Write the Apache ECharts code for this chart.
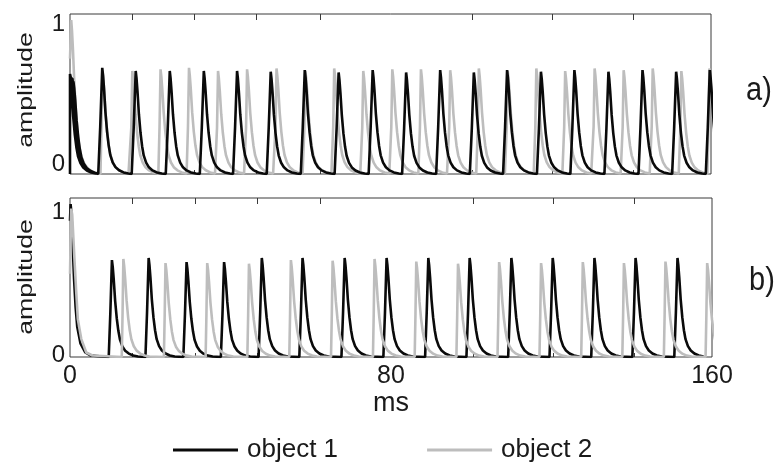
<!DOCTYPE html>
<html><head><meta charset="utf-8">
<script src="https://cdn.jsdelivr.net/npm/echarts@6/dist/echarts.min.js"></script>
<style>html,body{margin:0;padding:0;background:#fff}#c{width:776px;height:464px}</style>
</head><body><div id="c"></div>
<script>
// ---------- data ----------
const xTickLabels = [0, 80, 160];
const yTickLabels = [0, 1];
const frameTicks = [15.6, 31.1, 46.6, 62.4, 100.4, 120.4, 140.6];
const seriesNames = ['object 1', 'object 2'];
const panelLabels = ['a)', 'b)'];
const xName = 'ms';
const yName = 'amplitude';

// pulse shape (fraction of peak) after the peak, offsets in ms
const decayOffsets = [0.2, 0.45, 0.8, 1.2, 1.6, 2.0, 2.6, 3.3, 4.2, 5.3, 6.5];
const decayFracs   = [0.93, 0.8, 0.58, 0.4, 0.27, 0.18, 0.11, 0.065, 0.035, 0.015, 0.005];
const riseMidFrac = 0.45;

// panel a) object 1: initial bundle of strands at t=0
const aObj1StrandDelay = [0, 0.2, 0.4, 0.6, 0.85];
const aObj1StrandPeak  = [0.64, 0.65, 0.64, 0.62, 0.6];
const aObj1Rise = 1.0;
const aObj1Times = [8.05, 16.4, 24.9, 33.4, 41.7, 50.1, 58.6, 67.05, 75.55, 83.9, 92.4, 100.8, 109.1, 117.55, 125.9, 134.4, 142.9, 151.3, 159.7];
const aObj1Peaks = [0.69, 0.67, 0.67, 0.67, 0.67, 0.665, 0.675, 0.66, 0.675, 0.66, 0.675, 0.66, 0.675, 0.665, 0.675, 0.665, 0.675, 0.665, 0.675];
// panel a) object 2
const aObj2Rise = 0.5;
const aObj2StartT = [0, 0.3];
const aObj2StartV = [0.75, 1.0];
const aObj2Times = [0.3, 8.1, 15.55, 22.6, 29.7, 36.95, 44.2, 51.55, 58.75, 65.95, 73.2, 80.45, 87.6, 94.9, 102.05, 109.25, 116.4, 123.6, 130.95, 138.2, 145.45, 152.6, 159.6];
const aObj2Peaks = [1.0, 0.67, 0.67, 0.68, 0.69, 0.67, 0.68, 0.686, 0.67, 0.686, 0.67, 0.68, 0.68, 0.675, 0.686, 0.67, 0.686, 0.669, 0.686, 0.675, 0.686, 0.669, 0.686];

// panel b) object 1
const bObj1StartT = [0, 0.15, 0.35, 0.7, 1.0, 1.4, 1.8, 2.6, 3.8, 5.2];
const bObj1StartV = [0.9, 1.01, 0.95, 0.72, 0.52, 0.33, 0.2, 0.09, 0.03, 0.01];
const bObj1Rise = 0.8;
const bObj1Times = [10.45, 19.6, 29.05, 38.4, 47.8, 57.95, 68.45, 78.9, 89.3, 99.6, 110, 120.3, 130.7, 140.95, 151.4];
const bObj1Peaks = [0.64, 0.654, 0.627, 0.627, 0.654, 0.654, 0.654, 0.654, 0.654, 0.654, 0.654, 0.654, 0.654, 0.654, 0.654];
// panel b) object 2
const bObj2StartT = [0, 0.3, 0.55, 1.1, 1.55, 1.95, 2.8, 4.05, 5.6];
const bObj2StartV = [0.55, 0.98, 0.94, 0.65, 0.43, 0.25, 0.12, 0.03, 0.01];
const bObj2Rise = 0.4;
const bObj2Times = [13.3, 23.8, 34.2, 44.6, 55.05, 65.45, 75.9, 86.3, 96.7, 106.95, 117.4, 127.8, 138.05, 148.4, 158.8];
const bObj2Peaks = [0.647, 0.62, 0.62, 0.616, 0.64, 0.636, 0.647, 0.63, 0.616, 0.627, 0.62, 0.627, 0.62, 0.63, 0.62];

// ---------- build series points ----------
function decayPts(pts, t0, h, limit) {
  for (let k = 0; k < decayOffsets.length; k++) {
    const t = t0 + decayOffsets[k];
    if (t >= limit) break;
    pts.push([t, h * decayFracs[k]]);
  }
}
function train(pts, times, peaks, rise, skipFirstRise) {
  for (let i = 0; i < times.length; i++) {
    const t0 = times[i], h = peaks[i];
    const limit = i + 1 < times.length ? times[i + 1] - rise : Infinity;
    if (!(skipFirstRise && i === 0)) {
      pts.push([t0 - rise, 0]);
      pts.push([t0 - rise / 2, h * riseMidFrac]);
      pts.push([t0, h]);
    }
    decayPts(pts, t0, h, limit);
  }
  return pts;
}
function startPts(ts, vs) { return ts.map((t, i) => [t, vs[i]]); }

// a) object 1
const aObj1 = [];
aObj1StrandDelay.forEach((d, k) => {
  const h = aObj1StrandPeak[k];
  aObj1.push([0, 0], [0, h], [d, h]);
  decayPts(aObj1, d, h, aObj1Times[0] - aObj1Rise);
  if (k < aObj1StrandDelay.length - 1) aObj1.push([d + 7, null]);
});
train(aObj1, aObj1Times, aObj1Peaks, aObj1Rise, false);
// a) object 2
const aObj2 = train(startPts(aObj2StartT, aObj2StartV), aObj2Times, aObj2Peaks, aObj2Rise, true);
// b)
const bObj1 = train(startPts(bObj1StartT, bObj1StartV), bObj1Times, bObj1Peaks, bObj1Rise, false);
const bObj2 = train(startPts(bObj2StartT, bObj2StartV), bObj2Times, bObj2Peaks, bObj2Rise, false);

// ---------- chart ----------
const FONT = "'Liberation Sans',Arial,sans-serif";
const BLACK = '#0a0a0a', GRAY = '#bdbdbd', FRAME = '#3a3a3a', TXT = '#1a1a1a';

const chart = echarts.init(document.getElementById('c'), null, { renderer: 'canvas' });

function xAx(grid, pos, showLabels) {
  return {
    type: 'value', gridIndex: grid, position: pos, min: 0, max: 160,
    axisLine: { show: false }, splitLine: { show: false },
    axisTick: { show: true, inside: true, length: pos === 'top' ? 6 : 4, customValues: frameTicks, lineStyle: { color: FRAME, width: 1 } },
    axisLabel: showLabels ? { show: true, customValues: xTickLabels, fontSize: 25, fontFamily: FONT, color: TXT, margin: 7 } : { show: false },
    name: showLabels ? xName : '', nameLocation: 'middle', nameGap: 31,
    nameTextStyle: { fontSize: 27, fontFamily: FONT, color: TXT }
  };
}
function yAx(grid, max, padZero, padOne) {
  const st = { fontSize: 24, fontFamily: FONT, color: TXT };
  return {
    type: 'value', gridIndex: grid, min: 0, max: max,
    axisLine: { show: false }, splitLine: { show: false }, axisTick: { show: false },
    axisLabel: {
      show: true, customValues: yTickLabels, margin: 5, ...st,
      formatter: v => (v === 0 ? '{z|0}' : '{o|1}'),
      rich: { z: { ...st, padding: padZero }, o: { ...st, padding: padOne } }
    }
  };
}
function line(name, xi, yi, data, color) {
  return {
    type: 'line', name: name, xAxisIndex: xi, yAxisIndex: yi, data: data,
    symbol: 'none', showSymbol: false, clip: true, connectNulls: false,
    legendIcon: 'rect',
    lineStyle: { color: color, width: 2.6 }, itemStyle: { color: color },
    silent: true, animation: false
  };
}

chart.setOption({
  backgroundColor: '#ffffff',
  animation: false,
  grid: [
    { left: 70, top: 14, right: 65, height: 160, show: true, borderColor: FRAME, borderWidth: 1, backgroundColor: 'transparent' },
    { left: 70, top: 198, right: 64, height: 159, show: true, borderColor: FRAME, borderWidth: 1, backgroundColor: 'transparent' }
  ],
  xAxis: [xAx(0, 'bottom', false), xAx(0, 'top', false), xAx(1, 'bottom', true), xAx(1, 'top', false)],
  yAxis: [yAx(0, 1.04, [0, 0, 20, 0], [8, 0, 0, 0]), yAx(1, 1.05, [0, 0, 4, 0], [14, 0, 0, 0])],
  legend: {
    data: [{ name: seriesNames[0], icon: 'rect' }, { name: seriesNames[1], icon: 'rect' }],
    left: 168, top: 432, itemWidth: 65, itemHeight: 3, itemGap: 89,
    textStyle: { fontSize: 26, fontFamily: FONT, color: TXT, padding: [0, 0, 0, 4] },
    selectedMode: false
  },
  series: [
    line(seriesNames[1], 0, 0, aObj2, GRAY),
    line(seriesNames[0], 0, 0, aObj1, BLACK),
    line(seriesNames[0], 2, 1, bObj1, BLACK),
    line(seriesNames[1], 2, 1, bObj2, GRAY)
  ],
  graphic: [
    { type: 'text', x: 26, y: 90, rotation: Math.PI / 2, scaleX: 1.27, style: { text: yName, font: "21px " + FONT, fill: TXT, align: 'center', verticalAlign: 'middle' } },
    { type: 'text', x: 26, y: 277, rotation: Math.PI / 2, scaleX: 1.27, style: { text: yName, font: "21px " + FONT, fill: TXT, align: 'center', verticalAlign: 'middle' } },
    { type: 'text', x: 759, y: 91, scaleY: 1.12, style: { text: panelLabels[0], font: "29px " + FONT, fill: TXT, align: 'center', verticalAlign: 'middle' } },
    { type: 'text', x: 762, y: 281, scaleY: 1.12, style: { text: panelLabels[1], font: "29px " + FONT, fill: TXT, align: 'center', verticalAlign: 'middle' } }
  ]
});
</script>
</body></html>
